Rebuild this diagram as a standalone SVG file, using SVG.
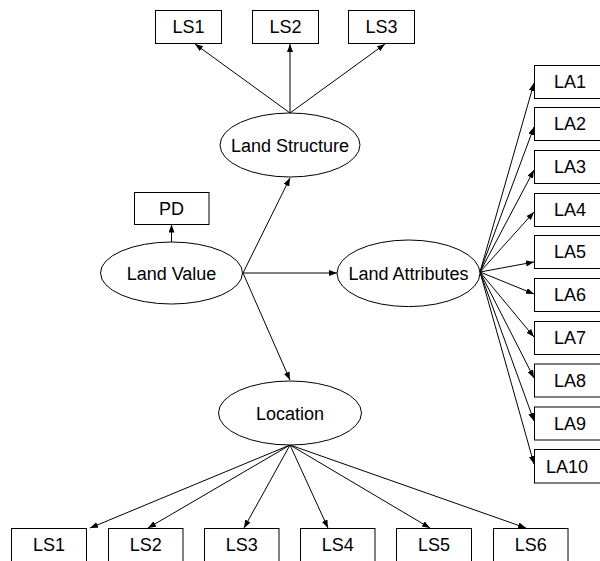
<svg xmlns="http://www.w3.org/2000/svg" width="600" height="561" viewBox="0 0 600 561">
<style>
.b{fill:#fff;stroke:#000;stroke-width:1}
.e{fill:#fff;stroke:#000;stroke-width:1}
.t{font-family:"Liberation Sans",Arial,sans-serif;font-size:18px;text-anchor:middle;fill:#000}
.c line{stroke:#000;stroke-width:1;marker-end:url(#ah)}
</style>
<defs>
<marker id="ah" markerUnits="userSpaceOnUse" markerWidth="9" markerHeight="7" refX="8" refY="3" orient="auto">
<path d="M0,0 L8,3 L0,6 z" fill="#000"/>
</marker>
</defs>
<rect width="600" height="561" fill="#fff"/>
<g class="c" id="connectors">
<line x1="290" y1="113" x2="195" y2="44"/>
<line x1="290" y1="113" x2="290" y2="44"/>
<line x1="290" y1="113" x2="385" y2="44"/>
<line x1="171.5" y1="242" x2="171.5" y2="224.5"/>
<line x1="243" y1="273" x2="290" y2="178"/>
<line x1="243" y1="273" x2="337" y2="273"/>
<line x1="243" y1="273" x2="290" y2="380"/>
<line x1="480" y1="272" x2="534" y2="83"/>
<line x1="480" y1="272" x2="534" y2="127"/>
<line x1="480" y1="272" x2="534" y2="170"/>
<line x1="480" y1="272" x2="534" y2="212"/>
<line x1="480" y1="272" x2="534" y2="262"/>
<line x1="480" y1="272" x2="534" y2="294"/>
<line x1="480" y1="272" x2="534" y2="337"/>
<line x1="480" y1="272" x2="534" y2="378"/>
<line x1="480" y1="272" x2="534" y2="421"/>
<line x1="480" y1="272" x2="534" y2="464"/>
<line x1="290" y1="445" x2="90" y2="528"/>
<line x1="290" y1="445" x2="148" y2="528"/>
<line x1="290" y1="445" x2="244" y2="528"/>
<line x1="290" y1="445" x2="328" y2="528"/>
<line x1="290" y1="445" x2="430" y2="528"/>
<line x1="290" y1="445" x2="526" y2="528"/>
</g>
<g id="land-structure"><ellipse class="e" cx="290" cy="145" rx="70" ry="32"/><text class="t" x="290" y="151.5">Land Structure</text></g>
<g id="land-value"><ellipse class="e" cx="171.5" cy="273" rx="71" ry="31"/><text class="t" x="171.5" y="279.5">Land Value</text></g>
<g id="land-attributes"><ellipse class="e" cx="408.5" cy="273.3" rx="71.5" ry="33.3"/><text class="t" x="408.5" y="279.5">Land Attributes</text></g>
<g id="location"><ellipse class="e" cx="290" cy="413" rx="71.5" ry="32"/><text class="t" x="290" y="419.5">Location</text></g>
<g id="pd"><rect class="b" x="134.5" y="192.5" width="74.5" height="32"/><text class="t" x="171.5" y="214.8">PD</text></g>
<g id="top-ls1"><rect class="b" x="155.5" y="10.5" width="66" height="33"/><text class="t" x="188.5" y="33">LS1</text></g>
<g id="top-ls2"><rect class="b" x="252.5" y="10.5" width="66" height="33"/><text class="t" x="285.5" y="33">LS2</text></g>
<g id="top-ls3"><rect class="b" x="348.5" y="10.5" width="66" height="33"/><text class="t" x="381.5" y="33">LS3</text></g>
<g id="la1"><rect class="b" x="534.5" y="65.5" width="70" height="33"/><text class="t" x="570" y="88.3">LA1</text></g>
<g id="la2"><rect class="b" x="534.5" y="107.5" width="70" height="33"/><text class="t" x="570" y="130.3">LA2</text></g>
<g id="la3"><rect class="b" x="534.5" y="150.5" width="70" height="33"/><text class="t" x="570" y="173.3">LA3</text></g>
<g id="la4"><rect class="b" x="534.5" y="193.5" width="70" height="33"/><text class="t" x="570" y="216.3">LA4</text></g>
<g id="la5"><rect class="b" x="534.5" y="235.5" width="70" height="33"/><text class="t" x="570" y="258.3">LA5</text></g>
<g id="la6"><rect class="b" x="534.5" y="278.5" width="70" height="33"/><text class="t" x="570" y="301.3">LA6</text></g>
<g id="la7"><rect class="b" x="534.5" y="321.5" width="70" height="33"/><text class="t" x="570" y="344.3">LA7</text></g>
<g id="la8"><rect class="b" x="534.5" y="364" width="70" height="33"/><text class="t" x="570" y="386.8">LA8</text></g>
<g id="la9"><rect class="b" x="534.5" y="407" width="70" height="33"/><text class="t" x="570" y="429.8">LA9</text></g>
<g id="la10"><rect class="b" x="534.5" y="449.5" width="70" height="33.5"/><text class="t" x="567" y="472.5">LA10</text></g>
<g id="bot-ls1"><rect class="b" x="11.5" y="528.5" width="75" height="40"/><text class="t" x="49" y="551.3">LS1</text></g>
<g id="bot-ls2"><rect class="b" x="108.5" y="528.5" width="74.5" height="40"/><text class="t" x="145.7" y="551.3">LS2</text></g>
<g id="bot-ls3"><rect class="b" x="204.5" y="528.5" width="74.5" height="40"/><text class="t" x="241.7" y="551.3">LS3</text></g>
<g id="bot-ls4"><rect class="b" x="300.5" y="528.5" width="74.5" height="40"/><text class="t" x="337.7" y="551.3">LS4</text></g>
<g id="bot-ls5"><rect class="b" x="396.5" y="528.5" width="75" height="40"/><text class="t" x="434" y="551.3">LS5</text></g>
<g id="bot-ls6"><rect class="b" x="493.5" y="528.5" width="74.5" height="40"/><text class="t" x="530.7" y="551.3">LS6</text></g>
</svg>
